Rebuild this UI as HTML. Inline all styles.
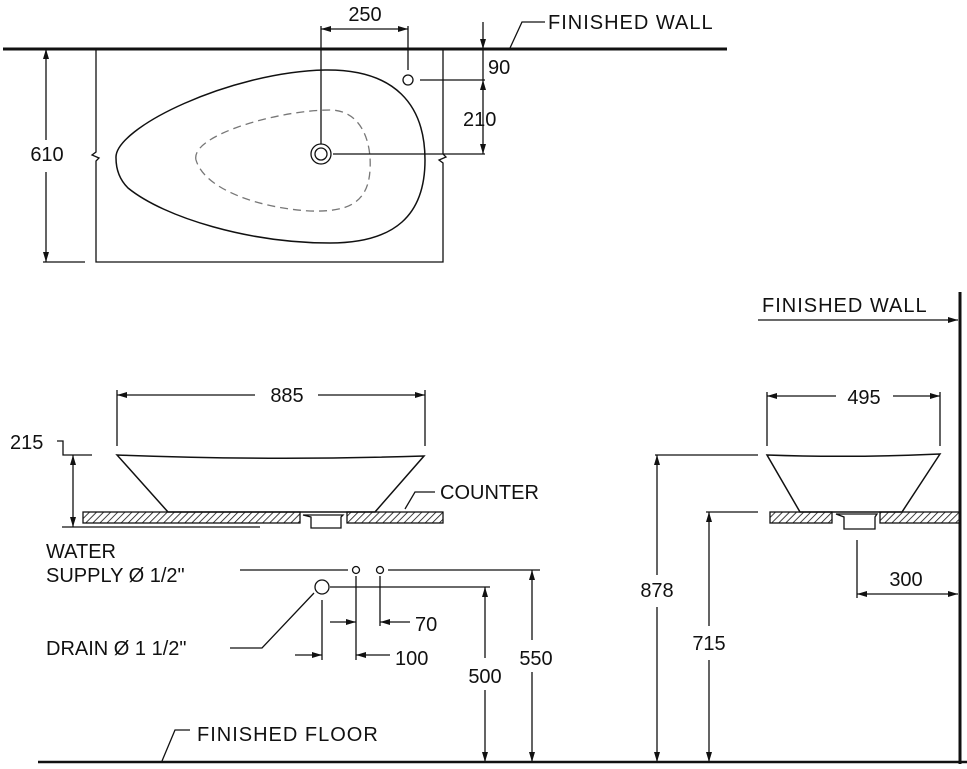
<!DOCTYPE html>
<html><head><meta charset="utf-8"><style>
html,body{margin:0;padding:0;background:#fff}
svg{display:block}
text{font-family:"Liberation Sans",sans-serif;font-size:20px;fill:#111}
</style></head><body>
<svg width="967" height="769" viewBox="0 0 967 769" xmlns="http://www.w3.org/2000/svg">
<defs>
<marker id="a" viewBox="0 0 10 6" refX="10" refY="3" markerWidth="10" markerHeight="6" orient="auto-start-reverse" markerUnits="userSpaceOnUse"><path d="M0,0 L10,3 L0,6 z" fill="#111"/></marker>
<pattern id="h" width="5" height="5" patternUnits="userSpaceOnUse" patternTransform="rotate(45)"><line x1="0" y1="0" x2="0" y2="5" stroke="#111" stroke-width="1.6"/></pattern>
</defs>
<g stroke="#111" fill="none" stroke-width="1.3">
<!-- TOP VIEW -->
<line x1="3" y1="49" x2="727" y2="49" stroke-width="3"/>
<path d="M96,49 V152 L92,155 L99,158 L96,161 V262 H443 V163 L439,160 L446,157 L443,154 V49"/>
<line x1="43" y1="262" x2="85" y2="262"/>
<line x1="46" y1="49" x2="46" y2="140" marker-start="url(#a)"/>
<line x1="46" y1="172" x2="46" y2="262" marker-end="url(#a)"/>
<path d="M116,158 C114,128 230,72 325,70 C395,69 425,105 425,160 C425,215 395,243 330,243 C250,243 165,218 128,188 C120,180 116,170 116,158 Z" stroke-width="1.5"/>
<path d="M196,160 C190,135 280,110 330,110 C360,110 372,140 370,170 C368,205 345,212 310,211 C260,208 205,190 196,160 Z" stroke="#777" stroke-dasharray="8,5"/>
<circle cx="321" cy="154" r="10"/><circle cx="321" cy="154" r="6"/>
<circle cx="408" cy="80" r="5"/>
<line x1="321" y1="26" x2="321" y2="144"/>
<line x1="408" y1="26" x2="408" y2="70"/>
<line x1="321" y1="29" x2="408" y2="29" marker-start="url(#a)" marker-end="url(#a)"/>
<line x1="420" y1="80" x2="485" y2="80"/>
<line x1="333" y1="154" x2="485" y2="154"/>
<line x1="483" y1="22" x2="483" y2="49" marker-end="url(#a)"/>
<line x1="483" y1="49" x2="483" y2="80"/>
<line x1="483" y1="80" x2="483" y2="154" marker-start="url(#a)" marker-end="url(#a)"/>
<path d="M510,48 L522,22 H545" />
<!-- FRONT VIEW -->
<line x1="117" y1="390" x2="117" y2="446"/>
<line x1="425" y1="390" x2="425" y2="446"/>
<line x1="117" y1="395" x2="255" y2="395" marker-start="url(#a)"/>
<line x1="318" y1="395" x2="425" y2="395" marker-end="url(#a)"/>
<path d="M117,455 Q270,461 424,456 L375,512 L168,512 Z" fill="#fff" stroke-width="1.5"/>
<rect x="83" y="512" width="217" height="11" fill="url(#h)"/>
<rect x="347" y="512" width="96" height="11" fill="url(#h)"/>
<path d="M303,515 H343 L341,517 V528 H311 V517 Z"/>
<path d="M57,441 H63 V455 H92"/>
<line x1="73" y1="455" x2="73" y2="527" marker-start="url(#a)" marker-end="url(#a)"/>
<line x1="62" y1="527" x2="260" y2="527"/>
<path d="M405,509 L415,492 H435"/>
<line x1="240" y1="570" x2="348" y2="570"/>
<circle cx="356" cy="570" r="3.5"/><circle cx="380" cy="570" r="3.5"/>
<line x1="388" y1="570" x2="540" y2="570"/>
<circle cx="322" cy="587" r="7"/>
<line x1="330" y1="587" x2="490" y2="587"/>
<path d="M314,593 L262,648 H230"/>
<line x1="322" y1="600" x2="322" y2="660"/>
<line x1="356" y1="576" x2="356" y2="660"/>
<line x1="380" y1="576" x2="380" y2="626"/>
<line x1="330" y1="622" x2="356" y2="622" marker-end="url(#a)"/>
<line x1="410" y1="622" x2="380" y2="622" marker-end="url(#a)"/>
<line x1="295" y1="655" x2="322" y2="655" marker-end="url(#a)"/>
<line x1="390" y1="655" x2="356" y2="655" marker-end="url(#a)"/>
<line x1="485" y1="587" x2="485" y2="658" marker-start="url(#a)"/>
<line x1="485" y1="690" x2="485" y2="762" marker-end="url(#a)"/>
<line x1="532" y1="570" x2="532" y2="640" marker-start="url(#a)"/>
<line x1="532" y1="672" x2="532" y2="762" marker-end="url(#a)"/>
<line x1="38" y1="762" x2="967" y2="762" stroke-width="2.5"/>
<path d="M162,761 L175,730 H190"/>
<!-- SIDE VIEW -->
<line x1="960" y1="292" x2="960" y2="764" stroke-width="3"/>
<line x1="758" y1="320" x2="958" y2="320" marker-end="url(#a)"/>
<line x1="767" y1="392" x2="767" y2="446"/>
<line x1="940" y1="392" x2="940" y2="446"/>
<line x1="767" y1="396" x2="836" y2="396" marker-start="url(#a)"/>
<line x1="893" y1="396" x2="940" y2="396" marker-end="url(#a)"/>
<path d="M767,455 Q850,458 940,454 L902,512 L800,512 Z" fill="#fff" stroke-width="1.5"/>
<rect x="770" y="512" width="62" height="11" fill="url(#h)"/>
<rect x="880" y="512" width="80" height="11" fill="url(#h)"/>
<path d="M836,514 H877 L875,517 V529 H844 V517 Z"/>
<line x1="655" y1="455" x2="758" y2="455"/>
<line x1="657" y1="455" x2="657" y2="575" marker-start="url(#a)"/>
<line x1="657" y1="607" x2="657" y2="762" marker-end="url(#a)"/>
<line x1="706" y1="512" x2="758" y2="512"/>
<line x1="709" y1="512" x2="709" y2="626" marker-start="url(#a)"/>
<line x1="709" y1="660" x2="709" y2="762" marker-end="url(#a)"/>
<line x1="857" y1="540" x2="857" y2="598"/>
<line x1="857" y1="594" x2="958" y2="594" marker-start="url(#a)" marker-end="url(#a)"/>
</g>
<g>
<text x="365" y="21" text-anchor="middle">250</text>
<text x="488" y="74">90</text>
<text x="463" y="126">210</text>
<text x="548" y="29" style="letter-spacing:1px">FINISHED  WALL</text>
<text x="47" y="161" text-anchor="middle">610</text>
<text x="287" y="402" text-anchor="middle">885</text>
<text x="10" y="449">215</text>
<text x="440" y="499">COUNTER</text>
<text x="46" y="558">WATER</text>
<text x="46" y="582">SUPPLY Ø 1/2"</text>
<text x="46" y="655">DRAIN Ø 1 1/2"</text>
<text x="415" y="631">70</text>
<text x="395" y="665">100</text>
<text x="485" y="683" text-anchor="middle">500</text>
<text x="536" y="665" text-anchor="middle">550</text>
<text x="197" y="741" style="letter-spacing:1px">FINISHED  FLOOR</text>
<text x="762" y="312" style="letter-spacing:1px">FINISHED  WALL</text>
<text x="864" y="404" text-anchor="middle">495</text>
<text x="657" y="597" text-anchor="middle">878</text>
<text x="709" y="650" text-anchor="middle">715</text>
<text x="906" y="586" text-anchor="middle">300</text>
</g>
</svg>
</body></html>
